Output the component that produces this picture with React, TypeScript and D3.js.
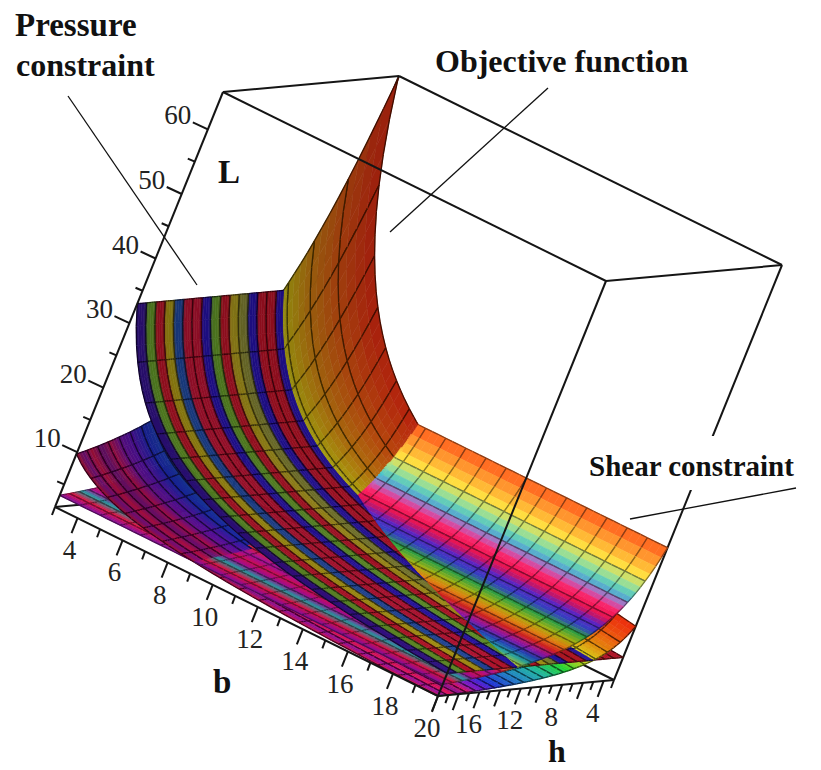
import React, { useMemo } from "react";
import * as d3 from "d3";

// ---- data ----
const bKnots = [3, 4, 5, 6, 8, 10, 13, 16, 20];
const hKnots = [3, 4, 5, 6, 8, 10, 13, 16, 20];
const objectiveAtB3ByH = [65.5, 48.6, 38.8, 32.4, 24.3, 19.4, 14.9, 12.1, 9.7];
const objectiveFalloffByB = [1, 0.75, 0.6, 0.5, 0.375, 0.3, 0.23, 0.1875, 0.15];
const pressureByB = [33, 24.8, 19.8, 16.5, 12.4, 9.9, 7.6, 6.2, 5];
const shearByH = [22, 16.5, 13.2, 11, 8.25, 6.6, 5.1, 4.1, 3.3];

const objectiveColorH = [3, 3.9, 4.8, 5.9, 6.8, 8, 10, 12, 14.5, 15.5, 16.4, 17.2, 18, 18.8, 19.5, 20];
const objectiveColors = ["#e82c10", "#e85a10", "#e08a10", "#d8d018", "#a0d020", "#20d030", "#20b0a0", "#2080c0", "#2030d0", "#6018c8", "#8018b8", "#d01060", "#801090", "#e01050", "#9010a0", "#d81040"];
const objectiveShadeB = [3, 5, 9, 13, 20];
const objectiveShades = [0.66, 0.7, 0.8, 0.95, 1.02];

// one colour per grid cell, from h = 20 downward
const pressureStripes = ["#2a1070", "#4f7a20", "#961020", "#8a7a10", "#1a3a80", "#961028", "#961028", "#20108a", "#4f7a20", "#961020", "#8a7a14", "#6a6a28", "#20108a", "#961020", "#961020", "#20108a", "#961020", "#961020", "#961020"];
const pressureShadeB = [3, 8, 14, 20];
const pressureShades = [0.92, 1, 1.08, 1.16];

const shearColorH = [3, 3.4, 3.8, 4.2, 4.6, 5, 5.4, 5.9, 6.4, 7, 7.6, 8.3, 9, 9.8, 10.6, 11.4, 12.2, 13, 13.8, 14.6, 15.5, 16.4, 17.2, 18, 19, 20];
const shearColors = ["#ff5a20", "#ffa030", "#ffe040", "#a0e090", "#40c0d0", "#c060c0", "#ff2060", "#e01050", "#6020c0", "#3040c0", "#30a040", "#a0b010", "#e08010", "#d02020", "#9010a0", "#2040b0", "#20a0a0", "#a0c040", "#d08020", "#e02040", "#a010a0", "#d01050", "#a01090", "#20a0a0", "#e01040", "#8010a0"];

const bMajor = [4, 6, 8, 10, 12, 14, 16, 18, 20];
const bMinor = [3, 5, 7, 9, 11, 13, 15, 17, 19];
const bLabels = [4, 6, 8, 10, 12, 14, 16, 18];
const hMajor = [20, 18, 16, 14, 12, 10, 8, 6, 4];
const hMinor = [19, 17, 15, 13, 11, 9, 7, 5, 3];
const hLabels = [20, 16, 12, 8, 4];
const lMajor = [10, 20, 30, 40, 50, 60];
const lMinor = [5, 15, 25, 35, 45, 55];
const lLabels = [10, 20, 30, 40, 50, 60];

const GRID_CELLS = 19;
const SUB_B = 3;
const SUB_H = 4;
const DOMAIN_MIN = 3;
const DOMAIN_MAX = 20;
const L_MIN = 1.5;
const L_MAX = 65.8;
const STEP = (DOMAIN_MAX - DOMAIN_MIN) / GRID_CELLS;
const VIEW_B = 0.369;
const VIEW_L = 0.782;

// ---- axonometric projection from scales ----
const bx = d3.scaleLinear().domain([DOMAIN_MIN, DOMAIN_MAX]).range([0, 383]);
const by = d3.scaleLinear().domain([DOMAIN_MIN, DOMAIN_MAX]).range([0, 189]);
const hx = d3.scaleLinear().domain([DOMAIN_MAX, DOMAIN_MIN]).range([0, 176]);
const hy = d3.scaleLinear().domain([DOMAIN_MAX, DOMAIN_MIN]).range([0, -16]);
const lx = d3.scaleLinear().domain([L_MIN, L_MAX]).range([0, 168]);
const ly = d3.scaleLinear().domain([L_MIN, L_MAX]).range([0, -415]);
const OX = 55;
const OY = 507;

type P = [number, number];
const proj = (b: number, h: number, L: number): P => [OX + bx(b) + hx(h) + lx(L), OY + by(b) + hy(h) + ly(L)];
const depthOf = (b: number, h: number, L: number) => VIEW_B * b + h + VIEW_L * L;

const logInterp = (xs: number[], ys: number[]) => {
  const s = d3.scaleLog().domain(xs).range(ys.map(Math.log));
  return (x: number) => Math.exp(s(x));
};
const objH = logInterp(hKnots, objectiveAtB3ByH);
const objB = logInterp(bKnots, objectiveFalloffByB);
const presB = logInterp(bKnots, pressureByB);
const shearH = logInterp(hKnots, shearByH);

const rgbScale = (xs: number[], cs: string[]) =>
  d3.scaleLinear<string>().domain(xs).range(cs).interpolate(d3.interpolateRgb as any);

const objColor = rgbScale(objectiveColorH, objectiveColors);
const shearColor = rgbScale(shearColorH, shearColors);
const presStops = pressureStripes.flatMap((_, k) => [DOMAIN_MAX - STEP * (k + 0.15), DOMAIN_MAX - STEP * (k + 0.85)]);
const presColors = pressureStripes.flatMap((c) => [c, c]);
const presColor = rgbScale(presStops.slice().reverse(), presColors.slice().reverse());
const objShade = d3.scaleLinear().domain(objectiveShadeB).range(objectiveShades);
const presShade = d3.scaleLinear().domain(pressureShadeB).range(pressureShades);

const tint = (c: string, f: number) => {
  const r = d3.rgb(c);
  return d3.rgb(Math.min(255, r.r * f), Math.min(255, r.g * f), Math.min(255, r.b * f)).formatHex();
};

const surfaces = [
  { L: (b: number, h: number) => objH(h) * objB(b), color: (b: number, h: number) => tint(objColor(h), objShade(b)), lineTint: 0.4 },
  { L: (b: number, _h: number) => presB(b), color: (b: number, h: number) => tint(presColor(h), presShade(b)), lineTint: 0.4 },
  { L: (_b: number, h: number) => shearH(h), color: (_b: number, h: number) => shearColor(h), lineTint: 0.55 },
];
const envelope = (b: number, h: number) => Math.max(...surfaces.map((s) => s.L(b, h)));
const winner = (b: number, h: number) => {
  const vals = surfaces.map((s) => s.L(b, h));
  return vals.indexOf(Math.max(...vals));
};
const onGrid = (v: number) => {
  const q = (v - DOMAIN_MIN) / STEP;
  return Math.abs(q - Math.round(q)) < 1e-6;
};

const line = d3.line<P>();
type Item = { depth: number; d: string; fill: string; grid: string | null; gridColor: string };

function quadItem(L: (b: number, h: number) => number, color: string, lineTint: number, b0: number, b1: number, h0: number, h1: number, depth: number): Item {
  const pts: P[] = [proj(b0, h0, L(b0, h0)), proj(b1, h0, L(b1, h0)), proj(b1, h1, L(b1, h1)), proj(b0, h1, L(b0, h1))];
  const segs: string[] = [];
  if (onGrid(b0)) segs.push(line([pts[0], pts[3]])!);
  if (onGrid(b1)) segs.push(line([pts[1], pts[2]])!);
  if (onGrid(h0)) segs.push(line([pts[0], pts[1]])!);
  if (onGrid(h1)) segs.push(line([pts[3], pts[2]])!);
  return { depth, d: line(pts)! + "Z", fill: color, grid: segs.length ? segs.join("") : null, gridColor: tint(color, lineTint) };
}

function buildQuads() {
  const nb = GRID_CELLS * SUB_B;
  const nh = GRID_CELLS * SUB_H;
  const ub = d3.scaleLinear().domain([0, nb]).range([DOMAIN_MIN, DOMAIN_MAX]);
  const uh = d3.scaleLinear().domain([0, nh]).range([DOMAIN_MIN, DOMAIN_MAX]);
  const under: Item[] = [];
  const top: Item[] = [];
  // parts of lower sheets seen past the open front sides of the domain
  for (const s of surfaces) {
    for (let i = 0; i < nb; i++) {
      for (let j = 0; j < nh; j++) {
        const b0 = ub(i), b1 = ub(i + 1), h0 = uh(j), h1 = uh(j + 1);
        const bc = (b0 + b1) / 2, hc = (h0 + h1) / 2;
        const Lc = s.L(bc, hc);
        if (Lc >= envelope(bc, hc)) continue;
        const t = Math.min(DOMAIN_MAX - hc, (DOMAIN_MAX - bc) / VIEW_B);
        if (Lc + VIEW_L * t > envelope(bc + VIEW_B * t, hc + t) + 1.5) continue;
        under.push(quadItem(s.L, s.color(bc, hc), s.lineTint, b0, b1, h0, h1, depthOf(bc, hc, Lc)));
      }
    }
  }
  // upper envelope, split where two sheets meet
  const emit = (b0: number, b1: number, h0: number, h1: number, level: number) => {
    const bc = (b0 + b1) / 2, hc = (h0 + h1) / 2;
    const w = winner(bc, hc);
    const same = [[b0, h0], [b1, h0], [b1, h1], [b0, h1]].every(([x, y]) => winner(x, y) === w);
    if (!same && level < 3) {
      emit(b0, bc, h0, hc, level + 1);
      emit(bc, b1, h0, hc, level + 1);
      emit(b0, bc, hc, h1, level + 1);
      emit(bc, b1, hc, h1, level + 1);
      return;
    }
    const s = surfaces[w];
    top.push(quadItem(envelope, s.color(bc, hc), s.lineTint, b0, b1, h0, h1, VIEW_B * bc + hc));
  };
  for (let i = 0; i < nb; i++) for (let j = 0; j < nh; j++) emit(ub(i), ub(i + 1), uh(j), uh(j + 1), 0);
  under.sort((a, c) => a.depth - c.depth);
  top.sort((a, c) => a.depth - c.depth);
  return [...under, ...top];
}

const INK = "#151515";
const seg = (a: P, c: P) => line([a, c])!;

export default function App() {
  const quads = useMemo(buildQuads, []);
  const c000 = proj(3, 20, L_MIN), cF0 = proj(20, 20, L_MIN), cR0 = proj(20, 3, L_MIN), cB0 = proj(3, 3, L_MIN);
  const c001 = proj(3, 20, L_MAX), cF1 = proj(20, 20, L_MAX), cR1 = proj(20, 3, L_MAX), cB1 = proj(3, 3, L_MAX);
  const labelStyle = { fontFamily: "'Liberation Serif', serif", fontSize: 27, fill: "#222" } as const;
  const bold = { fontFamily: "'Liberation Serif', serif", fontWeight: 700, fill: "#111" } as const;
  return (
    <svg width={821} height={770} style={{ position: "absolute", left: 0, top: 0, background: "#fff" }}>
      <defs>
        <filter id="soft" filterUnits="userSpaceOnUse" x={0} y={0} width={821} height={770}>
          <feGaussianBlur stdDeviation={0.5} />
        </filter>
      </defs>
      {/* rear box edges */}
      <g stroke={INK} strokeWidth={2} fill="none">
        <path d={seg(c000, cB0)} />
        <path d={seg(cB0, cR0)} />
        <path d={seg(cB0, cB1)} />
        <path d={seg(c001, cB1)} />
        <path d={seg(cB1, cR1)} />
        <path d={seg(cR1, cR0)} />
      </g>
      {/* surfaces */}
      <g strokeLinejoin="round" filter="url(#soft)">
        {quads.map((q, i) => (
          <React.Fragment key={i}>
            <path d={q.d} fill={q.fill} stroke={q.fill} strokeWidth={0.6} />
            {q.grid && <path d={q.grid} fill="none" stroke={q.gridColor} strokeWidth={1.3} />}
          </React.Fragment>
        ))}
      </g>
      {/* front box edges and axes */}
      <g stroke={INK} strokeWidth={2} fill="none">
        <path d={seg(c000, cF0)} />
        <path d={seg(cF0, cR0)} />
        <path d={seg(c000, c001)} />
        <path d={seg(cF0, cF1)} />
        <path d={seg(c001, cF1)} />
        <path d={seg(cF1, cR1)} />
        {bMajor.map((b) => { const p = proj(b, 20, L_MIN); return <path key={b} d={seg(p, [p[0] - 6, p[1] + 15])} />; })}
        {bMinor.map((b) => { const p = proj(b, 20, L_MIN); return <path key={b} d={seg(p, [p[0] - 3, p[1] + 8])} />; })}
        {hMajor.map((h) => { const p = proj(20, h, L_MIN); return <path key={h} d={seg(p, [p[0] - 6, p[1] + 16])} />; })}
        {hMinor.map((h) => { const p = proj(20, h, L_MIN); return <path key={h} d={seg(p, [p[0] - 3, p[1] + 8])} />; })}
        {lMajor.map((v) => { const p = proj(3, 20, v); return <path key={v} d={seg(p, [p[0] - 15, p[1] - 7])} />; })}
        {lMinor.map((v) => { const p = proj(3, 20, v); return <path key={v} d={seg(p, [p[0] - 7, p[1] - 3])} />; })}
      </g>
      {/* tick labels */}
      <g {...labelStyle} textAnchor="middle" dominantBaseline="central">
        {bLabels.map((b) => { const p = proj(b, 20, L_MIN); return <text key={b} x={p[0] - 8} y={p[1] + 32}>{b}</text>; })}
        {hLabels.map((h) => { const p = proj(20, h, L_MIN); return <text key={h} x={p[0] - 11} y={p[1] + 32}>{h}</text>; })}
        {lLabels.map((v) => { const p = proj(3, 20, v); return <text key={v} x={p[0] - 30} y={p[1] - 14}>{v}</text>; })}
      </g>
      {/* annotations */}
      <rect x={586} y={436} width={212} height={54} fill="#fff" />
      <g stroke="#111" strokeWidth={1.3}>
        <line x1={68} y1={96} x2={197} y2={285} />
        <line x1={548} y1={88} x2={390} y2={232} />
        <line x1={630} y1={519} x2={796} y2={488} />
      </g>
      <g {...bold}>
        <text x={15} y={36} fontSize={33}>Pressure</text>
        <text x={16} y={76} fontSize={32}>constraint</text>
        <text x={435} y={72} fontSize={32}>Objective function</text>
        <text x={589} y={476} fontSize={29}>Shear constraint</text>
        <text x={218} y={183} fontSize={33}>L</text>
        <text x={213} y={693} fontSize={33}>b</text>
        <text x={548} y={762} fontSize={32}>h</text>
      </g>
    </svg>
  );
}
